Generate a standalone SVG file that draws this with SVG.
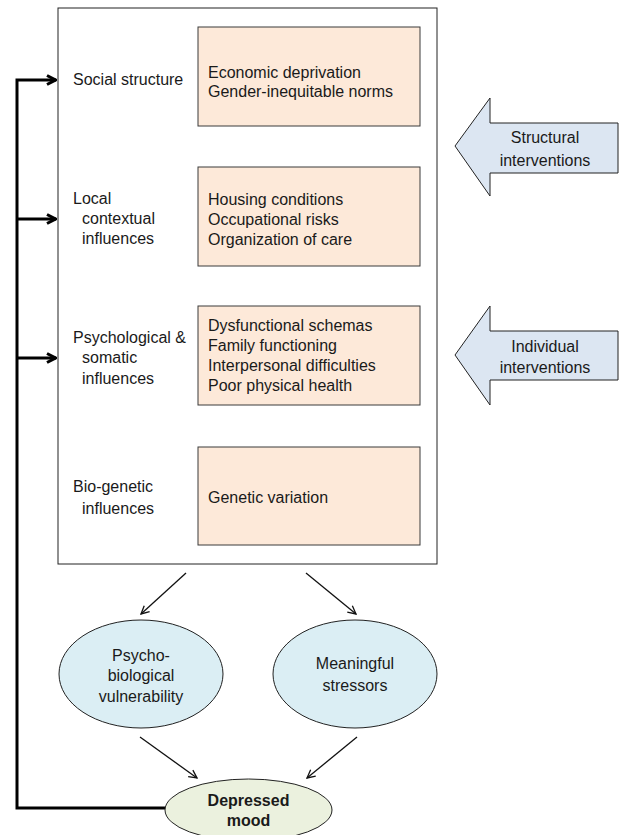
<svg xmlns="http://www.w3.org/2000/svg" width="621" height="835" viewBox="0 0 621 835">
<style>
text{font-family:"Liberation Sans",Arial,sans-serif;font-size:16px;fill:#1a1a1a}
.c{text-anchor:middle}
.b{font-weight:bold}
.box{fill:#fde9d9;stroke:#3a3a3a;stroke-width:1}
.ell{fill:#dbeef4;stroke:#222;stroke-width:1}
.blk{fill:#dce6f2;stroke:#222;stroke-width:1}
.thin{stroke:#111;stroke-width:1.3;fill:none}
.thick{stroke:#000;stroke-width:3;fill:none}
</style>
<defs>
<marker id="ah" viewBox="0 0 10 10" refX="9" refY="5" markerWidth="10" markerHeight="10" markerUnits="userSpaceOnUse" orient="auto">
<path d="M1,1 L9,5 L1,9" fill="none" stroke="#111" stroke-width="1.3"/>
</marker>
<marker id="ahb" viewBox="0 0 12 12" refX="11" refY="6" markerWidth="12" markerHeight="12" markerUnits="userSpaceOnUse" orient="auto">
<path d="M2,1.5 L10.5,6 L2,10.5" fill="none" stroke="#000" stroke-width="3"/>
</marker>
</defs>
<g id="main-box">
<rect x="58" y="8" width="379" height="556" fill="#fff" stroke="#222" stroke-width="1"/>
</g>
<g id="social">
<text x="73" y="84.5">Social structure</text>
<rect class="box" x="198" y="27" width="222" height="99"/>
<text x="208" y="77.5">Economic deprivation</text>
<text x="208" y="97">Gender-inequitable norms</text>
</g>
<g id="local">
<text x="73" y="203.5">Local</text>
<text x="82" y="223.5">contextual</text>
<text x="82" y="244">influences</text>
<rect class="box" x="198" y="167" width="222" height="99"/>
<text x="208" y="205">Housing conditions</text>
<text x="208" y="225">Occupational risks</text>
<text x="208" y="245">Organization of care</text>
</g>
<g id="psych">
<text x="73" y="342.5">Psychological &amp;</text>
<text x="82" y="363">somatic</text>
<text x="82" y="383.5">influences</text>
<rect class="box" x="198" y="306" width="222" height="99"/>
<text x="208" y="330.5">Dysfunctional schemas</text>
<text x="208" y="350.5">Family  functioning</text>
<text x="208" y="370.5">Interpersonal difficulties</text>
<text x="208" y="390.5">Poor physical health</text>
</g>
<g id="bio">
<text x="73" y="491.5">Bio-genetic</text>
<text x="82" y="513.5">influences</text>
<rect class="box" x="198" y="447" width="222" height="98"/>
<text x="208" y="502.5">Genetic variation</text>
</g>
<g id="structural">
<polygon class="blk" points="455,146 490,98 490,123 618,123 618,173 490,173 490,196"/>
<text class="c" x="545" y="143">Structural</text>
<text class="c" x="545" y="165.5">interventions</text>
</g>
<g id="individual">
<polygon class="blk" points="455,355 490,306 490,331 618,331 618,380 490,380 490,405"/>
<text class="c" x="545" y="352">Individual</text>
<text class="c" x="545" y="373">interventions</text>
</g>
<g id="vulnerability">
<ellipse class="ell" cx="141" cy="674" rx="82" ry="54"/>
<text class="c" x="141" y="660.5">Psycho-</text>
<text class="c" x="141" y="681">biological</text>
<text class="c" x="141" y="702">vulnerability</text>
</g>
<g id="stressors">
<ellipse class="ell" cx="355" cy="674" rx="82" ry="54"/>
<text class="c" x="355" y="668.5">Meaningful</text>
<text class="c" x="355" y="691">stressors</text>
</g>
<g id="connectors">
<polyline class="thick" points="166,808 17,808 17,80 56,80" marker-end="url(#ahb)"/>
<line class="thick" x1="17" y1="219" x2="56" y2="219" marker-end="url(#ahb)"/>
<line class="thick" x1="17" y1="358" x2="56" y2="358" marker-end="url(#ahb)"/>
<line class="thin" x1="186" y1="573" x2="141" y2="614" marker-end="url(#ah)"/>
<line class="thin" x1="306" y1="573" x2="356" y2="614" marker-end="url(#ah)"/>
<line class="thin" x1="140" y1="737" x2="197" y2="778" marker-end="url(#ah)"/>
<line class="thin" x1="357" y1="737" x2="307" y2="778" marker-end="url(#ah)"/>
</g>
<g id="depressed">
<ellipse cx="248.5" cy="810" rx="83.5" ry="31" fill="#ebf1de" stroke="#222" stroke-width="1"/>
<text class="c b" x="248.5" y="805.5">Depressed</text>
<text class="c b" x="248.5" y="826">mood</text>
</g>
</svg>
